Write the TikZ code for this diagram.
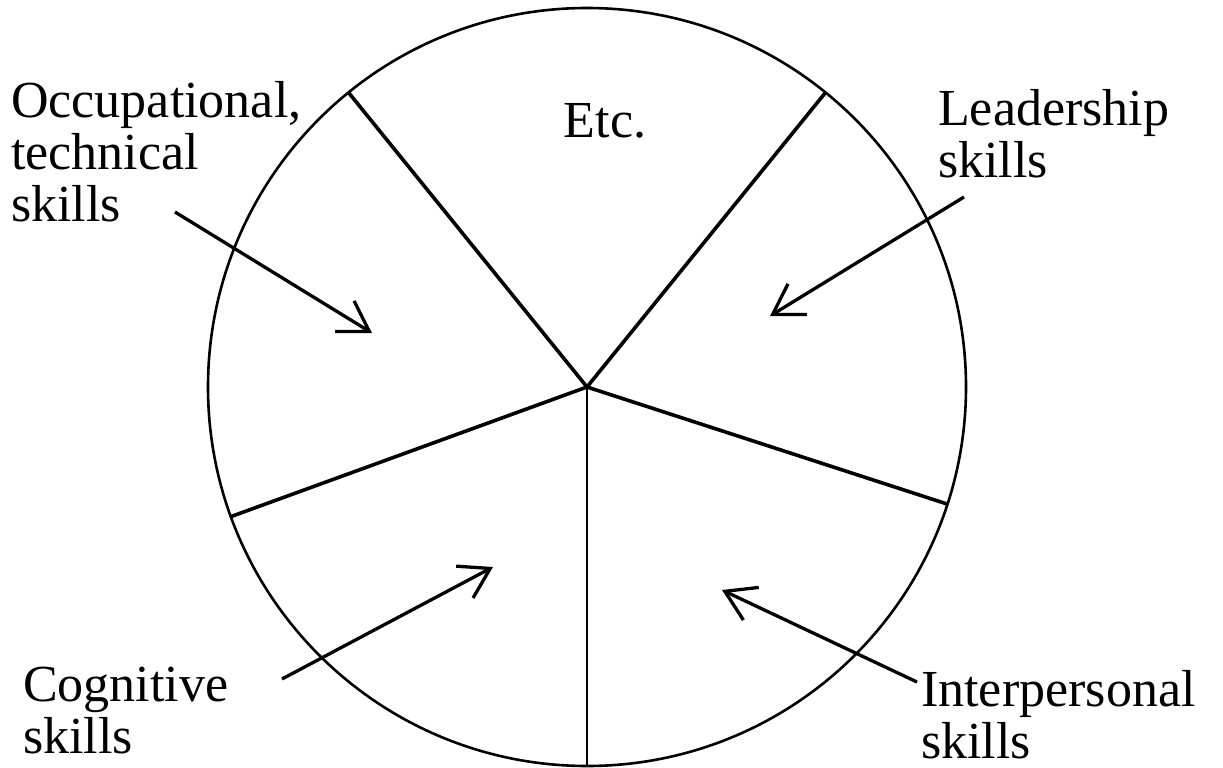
\documentclass[tikz,border=0pt]{standalone}
\usepackage{fontspec}
\setmainfont{Liberation Serif}
\usetikzlibrary{arrows.meta}
\begin{document}
\begin{tikzpicture}[x=1pt,y=-1pt,
  tag/.style={font=\fontsize{52}{52}\selectfont, inner sep=0pt, align=left, anchor=north west},
  rim/.style={line width=2.6pt},
  spoke/.style={line width=3.6pt},
  midspoke/.style={line width=2.9pt},
  pointer/.style={line width=3.3pt, -{Straight Barb[length=29pt,width=36pt]}}]
\useasboundingbox (0,0) rectangle (1223,768);
\fill[white] (0,0) rectangle (1223,768);

% wheel with five sectors
\coordinate (hub) at (587,387);
\draw[rim] (hub) circle[radius=379pt];
\path (hub) ++(51:379pt) coordinate (rimA);
\path (hub) ++(129:379pt) coordinate (rimB);
\path (hub) ++(200:379pt) coordinate (rimC);
\path (hub) ++(270:379pt) coordinate (rimD);
\path (hub) ++(-18:379pt) coordinate (rimE);
\draw[spoke] (hub) -- (rimA);
\draw[spoke] (hub) -- (rimB);
\draw[spoke] (hub) -- (rimC);
\draw[midspoke] (hub) -- (rimD);
\draw[spoke] (hub) -- (rimE);

% labels
\node[font=\fontsize{52}{52}\selectfont, inner sep=0pt, anchor=base] (etc) at (605,137) {Etc.};
\node[tag] (occ) at (11,81.5) {Occupational,\\technical\\skills};
\node[tag] (lead) at (938,89.5) {Leadership\\skills};
\node[tag] (cog) at (23,667) {Cognitive\\skills};
\node[tag] (inter) at (921,670) {Interpersonal\\skills};

% pointers into the sectors
\coordinate (occFrom) at (175,212);  \coordinate (occTo) at (372,333);
\coordinate (leadFrom) at (964,197); \coordinate (leadTo) at (770,316);
\coordinate (cogFrom) at (282,679);  \coordinate (cogTo) at (493,567);
\coordinate (interFrom) at (917,682); \coordinate (interTo) at (722,590);
\draw[pointer] (occFrom) -- (occTo);
\draw[pointer] (leadFrom) -- (leadTo);
\draw[pointer] (cogFrom) -- (cogTo);
\draw[pointer] (interFrom) -- (interTo);
\end{tikzpicture}
\end{document}
